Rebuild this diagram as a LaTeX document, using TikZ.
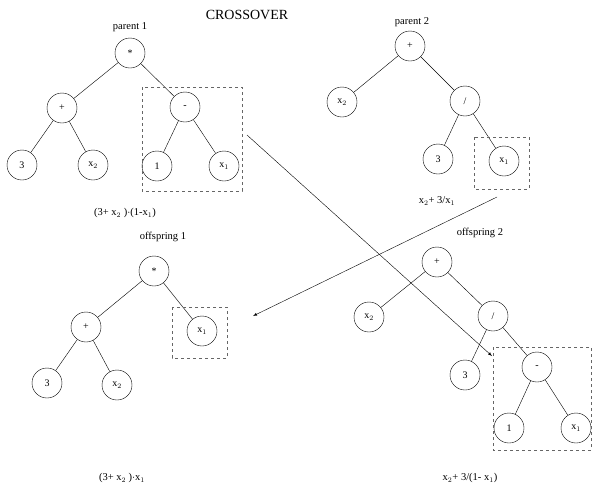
\documentclass[tikz,border=0pt]{standalone}
\usepackage{fontspec}
\setmainfont{Liberation Serif}
\usetikzlibrary{positioning}
\tikzset{
  vertex/.style={draw,circle,minimum size=30pt,inner sep=0pt,font=\fontsize{10}{12}\selectfont},
  subtree/.style={draw=gray!80!black,dashed,inner sep=0pt},
  caption/.style={font=\fontsize{10.5}{12}\selectfont}
}
\begin{document}
\begin{tikzpicture}[x=1pt,y=-1pt,line width=0.4pt]
  \useasboundingbox (0,0) rectangle (592,485);
  \node[font=\fontsize{14}{16}\selectfont] (title) at (247,15) {CROSSOVER};
  % parent 1
  \node[caption] (lp1) at (130,27) {parent 1};
  \node[vertex] (p1) at (130,53) {*};
  \node[vertex] (p1a) at (62,108) {+};
  \node[vertex] (p1b) at (185,107) {-};
  \node[vertex] (p1c) at (22,165) {3};
  \node[vertex] (p1d) at (93,165) {x$_2$};
  \node[vertex] (p1e) at (157,166) {1};
  \node[vertex] (p1f) at (224,166) {x$_1$};
  \draw (p1c) -- (p1a) -- (p1) -- (p1b) -- (p1e);
  \draw (p1a) -- (p1d);
  \draw (p1b) -- (p1f);
  \draw[subtree] (142,87) rectangle (242,191);
  \node[caption] (e1) at (125,213) {(3+ x$_2$ )$\cdot$(1-x$_1$)};
  % parent 2
  \node[caption] (lp2) at (412,22) {parent 2};
  \node[vertex] (p2) at (410,46) {+};
  \node[vertex] (p2a) at (342,102) {x$_2$};
  \node[vertex] (p2b) at (465,101) {/};
  \node[vertex] (p2c) at (438,159) {3};
  \node[vertex] (p2d) at (504,161) {x$_1$};
  \draw (p2a) -- (p2) -- (p2b) -- (p2c);
  \draw (p2b) -- (p2d);
  \draw[subtree] (474,137) rectangle (529,189);
  \node[caption] (e2) at (437,201) {x$_2$+ 3/x$_1$};
  % offspring 1
  \node[caption] (lo1) at (163,237) {offspring 1};
  \node[vertex] (o1) at (154,271) {*};
  \node[vertex] (o1a) at (86,327) {+};
  \node[vertex] (o1b) at (202,331) {x$_1$};
  \node[vertex] (o1c) at (47,383) {3};
  \node[vertex] (o1d) at (117,385) {x$_2$};
  \draw (o1c) -- (o1a) -- (o1) -- (o1b);
  \draw (o1a) -- (o1d);
  \draw[subtree] (172,307) rectangle (227,358);
  \node[caption] (e3) at (122,478) {(3+ x$_2$ )$\cdot$x$_1$};
  % offspring 2
  \node[caption] (lo2) at (480,233) {offspring 2};
  \node[vertex] (o2) at (437,262) {+};
  \node[vertex] (o2a) at (369,317) {x$_2$};
  \node[vertex] (o2b) at (493,316) {/};
  \node[vertex] (o2c) at (465,375) {3};
  \node[vertex] (o2d) at (537,367) {-};
  \node[vertex] (o2e) at (509,428) {1};
  \node[vertex] (o2f) at (576,428) {x$_1$};
  \draw (o2a) -- (o2) -- (o2b) -- (o2c);
  \draw (o2b) -- (o2d) -- (o2e);
  \draw (o2d) -- (o2f);
  \draw[subtree] (493,347) rectangle (591,450);
  \node[caption] (e4) at (470,478) {x$_2$+ 3/(1- x$_1$)};
  % swapped subtrees
  \coordinate (s1) at (247,135);
  \coordinate (t1) at (492,356);
  \coordinate (s2) at (497,197);
  \coordinate (t2) at (253,316);
  \draw[-latex] (s1) -- (t1);
  \draw[-latex] (s2) -- (t2);
\end{tikzpicture}
\end{document}
